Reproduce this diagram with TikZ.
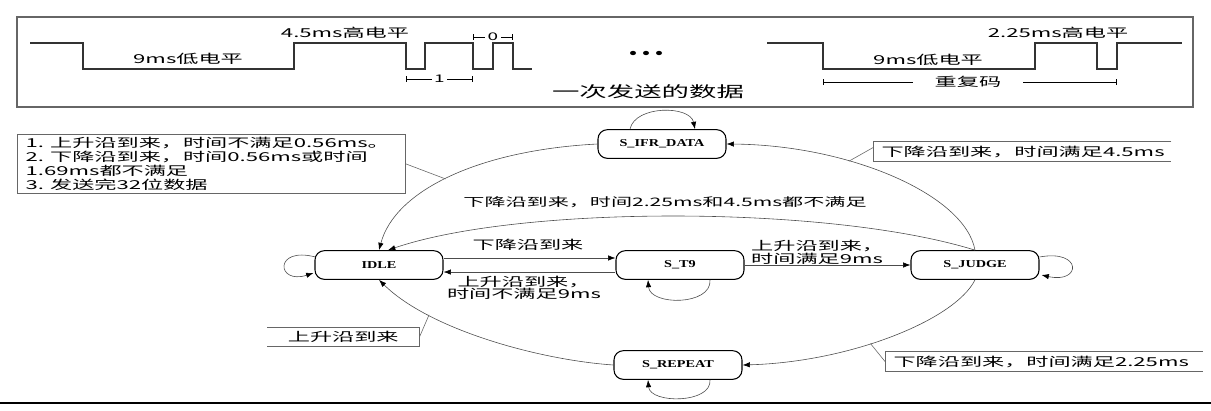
\documentclass[tikz,border=0pt]{standalone}
\usepackage{fontspec}
\newfontfamily\cjk[FakeStretch=1.8]{Noto Sans CJK SC}
\newfontfamily\statefont[FakeStretch=1.35]{Liberation Serif}
\usetikzlibrary{arrows.meta,calc}

\begin{document}
\begin{tikzpicture}[
  x=0.03cm, y=-0.03cm,
  wave/.style={line width=0.9pt, black!80},
  dim/.style={{Bar[width=1.6mm]}-{Bar[width=1.6mm]}, line width=0.5pt},
  stbox/.style={draw, line width=0.9pt, rounded corners=0.28cm,
                minimum width=3.84cm, minimum height=0.86cm, inner sep=1pt,
                font=\statefont\bfseries\fontsize{9}{10}\selectfont},
  tr/.style={-{Latex[length=2.2mm,width=1.6mm,black]}, line width=0.5pt, black!70},
  txt/.style={font=\cjk\fontsize{10.5}{12}\selectfont, inner sep=0pt},
  note/.style={txt, anchor=west, minimum height=0.57cm, inner xsep=0.25cm,
               text width=#1, align=left},
  lead/.style={line width=0.5pt, black!60}]
\useasboundingbox (0,0) rectangle (1211,410);

% frame of the timing picture
\draw[line width=1pt, black!60] (17,17) rectangle (1193,107);
\draw[wave] (30,43) -- (83,43) -- (83,69) -- (294,69) -- (294,43) -- (406,43)
  -- (406,69) -- (425,69) -- (425,43) -- (473,43) -- (473,69) -- (493,69)
  -- (493,43) -- (513,43) -- (513,69) -- (532,69);
\draw[wave] (767,43) -- (823,43) -- (823,69) -- (1035,69) -- (1035,43)
  -- (1097,43) -- (1097,69) -- (1117,69) -- (1117,43) -- (1182,43);
\node[txt] (low1) at (188,59) {9ms低电平};
\node[txt] (high1) at (345,33) {4.5ms高电平};
\node[txt] (low2) at (928,60) {9ms低电平};
\node[txt] (high2) at (1058,33) {2.25ms高电平};
\draw[dim] (406,79) -- (473,79)
  node[midway, txt, fill=white, inner xsep=2pt, font=\cjk\fontsize{9}{10}\selectfont] (one) {1};
\draw[dim] (473,37) -- (513,37)
  node[midway, txt, fill=white, inner xsep=2pt, font=\cjk\fontsize{9}{10}\selectfont] (zero) {0};
\draw[dim] (823,82) -- (1117,82)
  node[pos=0.493, txt, fill=white, inner xsep=0.66cm] (rep) {重复码};
\foreach \dx in {633,646,659}
  \fill (\dx,53) ellipse [x radius=0.09cm, y radius=0.065cm];
\node[txt, font=\cjk\fontsize{13}{15}\selectfont] (once) at (648,92) {一次发送的数据};

% states
\node[stbox] (IFR) at (662,144) {S\_IFR\_DATA};
\node[stbox] (IDLE) at (379,265) {IDLE};
\node[stbox] (T9) at (680,265) {S\_T9};
\node[stbox] (JUDGE) at (975,265) {S\_JUDGE};
\node[stbox] (REP) at (678,365) {S\_REPEAT};

% self loops
\draw[tr] ($(IFR.north)+(-32,0)$) .. controls +(5,-24) and +(-5,-24) .. ($(IFR.north)+(33,0)$);
\draw[tr] ($(IDLE.west)+(1,-8)$) .. controls +(-42,-11) and +(-37,12) .. ($(IDLE.west)+(-1,8)$);
\draw[tr] ($(T9.south)+(30,0)$) .. controls +(2,26) and +(2,26) .. ($(T9.south)+(-32,0)$);
\draw[tr] ($(JUDGE.east)+(0,-8)$) .. controls +(43,-8) and +(40,9) .. ($(JUDGE.east)+(2,10)$);
\draw[tr] ($(REP.south)+(32,0)$) .. controls +(2,24) and +(2,24) .. ($(REP.south)+(-30,0)$);

% transitions
\draw[tr] ([yshift=6pt]IDLE.east) -- ([yshift=6pt]T9.west);
\draw[tr] ([yshift=-6pt]T9.west) -- ([yshift=-6pt]IDLE.east);
\draw[tr] (T9) -- (JUDGE);
\draw[tr] (IFR.west) .. controls (480,150) and (395,190) .. (IDLE.north)
  coordinate[pos=0.52] (onIfr);
\draw[tr] (JUDGE.north) .. controls (830,205) and (520,205) .. ([xshift=0.27cm]IDLE.north);
\draw[tr] (JUDGE.north) .. controls (965,195) and (850,145) .. (IFR.east)
  coordinate[pos=0.65] (on45);
\draw[tr] (JUDGE.south) .. controls (955,320) and (850,362) .. (REP.east)
  coordinate[pos=0.58] (on225);
\draw[tr] (REP.west) .. controls (540,360) and (430,330) .. (IDLE.south)
  coordinate[pos=0.74] (onUp);

% labels
\node[txt] (lbFall) at (528,245) {下降沿到来};
\node[txt, align=center, font=\cjk\fontsize{10.5}{10.5}\selectfont] (lbShort) at (524,288) {上升沿到来，\\时间不满足9ms};
\node[txt, align=left, anchor=west, font=\cjk\fontsize{10.5}{11}\selectfont] (lbNine) at (751,252) {上升沿到来，\\时间满足9ms};
\node[txt, font=\cjk\fontsize{10}{12}\selectfont] (lbNone) at (665,202) {下降沿到来，时间2.25ms和4.5ms都不满足};

% callouts
\node[txt, draw, line width=0.5pt, black!60, text=black, anchor=north west,
      minimum width=11.64cm, minimum height=1.77cm, inner xsep=0.25cm,
      text width=11.14cm, align=left, font=\cjk\fontsize{10.5}{12.2}\selectfont]
  (nIdle) at (17,134) {1. 上升沿到来，时间不满足0.56ms。\\2. 下降沿到来，时间0.56ms或时间\\1.69ms都不满足\\3. 发送完32位数据};
\draw[lead] (nIdle.east) -- (onIfr);
\node[note=8.44cm] (n45) at (873,151.5) {下降沿到来，时间满足4.5ms};
\draw[lead] (n45.north east) -- (n45.north west) -- (n45.south west) -- (n45.south east);
\draw[lead] ($(n45.north west)!0.3!(n45.south west)$) -- (on45);
\node[note=9.01cm] (n225) at (885,361.5) {下降沿到来，时间满足2.25ms};
\draw[lead] (n225.north east) -- (n225.north west) -- (n225.south west) -- (n225.south east);
\draw[lead] (n225.west) -- (on225);
\node[note=4.06cm, align=center, minimum height=0.54cm] (nUp) at (267,337) {上升沿到来};
\draw[lead] (nUp.north west) -- (nUp.north east) -- (nUp.south east) -- (nUp.south west);
\draw[lead] (nUp.east) -- (onUp);

\draw[line width=1.6pt] (0,403) -- (1211,403);
\end{tikzpicture}
\end{document}
